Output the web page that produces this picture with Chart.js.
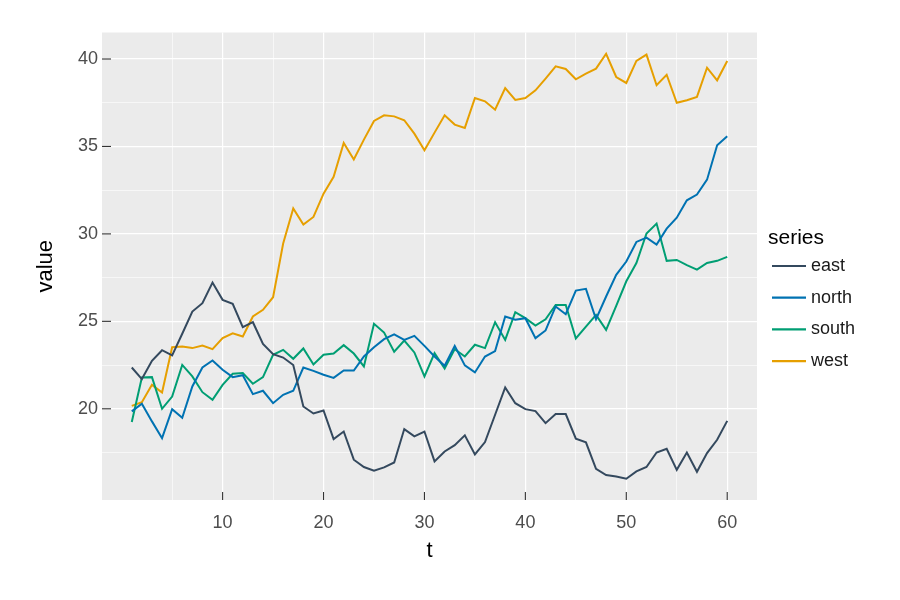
<!DOCTYPE html>
<html>
<head>
<meta charset="utf-8">
<script src="https://cdn.jsdelivr.net/npm/chart.js@4.4.1/dist/chart.umd.min.js"></script>
<style>
  html, body { margin: 0; padding: 0; background: #ffffff; }
  #wrap { width: 900px; height: 600px; }
</style>
</head>
<body>
<div id="wrap"><canvas id="lineChart" width="900" height="600"></canvas></div>
<script>
// time steps
const t = [1, 2, 3, 4, 5, 6, 7, 8, 9, 10,
  11, 12, 13, 14, 15, 16, 17, 18, 19, 20,
  21, 22, 23, 24, 25, 26, 27, 28, 29, 30,
  31, 32, 33, 34, 35, 36, 37, 38, 39, 40,
  41, 42, 43, 44, 45, 46, 47, 48, 49, 50,
  51, 52, 53, 54, 55, 56, 57, 58, 59, 60];

// series values
const east = [22.36, 21.70, 22.74, 23.35, 23.05, 24.29, 25.56, 26.04, 27.22, 26.23,
  26.00, 24.67, 24.95, 23.71, 23.12, 22.93, 22.50, 20.13, 19.73, 19.90,
  18.27, 18.70, 17.09, 16.67, 16.46, 16.65, 16.93, 18.84, 18.42, 18.70,
  16.99, 17.56, 17.92, 18.48, 17.39, 18.10, 19.66, 21.22, 20.32, 19.98,
  19.87, 19.18, 19.70, 19.70, 18.29, 18.08, 16.57, 16.21, 16.13, 16.00,
  16.42, 16.67, 17.50, 17.71, 16.51, 17.50, 16.40, 17.47, 18.23, 19.31];

const north = [19.85, 20.29, 19.28, 18.32, 19.98, 19.49, 21.28, 22.36, 22.76, 22.23,
  21.81, 21.92, 20.84, 21.03, 20.32, 20.80, 21.03, 22.36, 22.17, 21.95,
  21.77, 22.19, 22.19, 22.99, 23.52, 23.98, 24.25, 23.94, 24.17, 23.60,
  22.99, 22.46, 23.60, 22.48, 22.08, 22.99, 23.30, 25.28, 25.09, 25.18,
  24.04, 24.48, 25.85, 25.41, 26.76, 26.86, 25.12, 26.42, 27.66, 28.42,
  29.54, 29.79, 29.39, 30.30, 30.93, 31.92, 32.25, 33.10, 35.07, 35.58];

const south = [19.24, 21.79, 21.81, 20.00, 20.70, 22.51, 21.85, 20.95, 20.51, 21.37,
  22.00, 22.04, 21.43, 21.81, 23.09, 23.37, 22.86, 23.45, 22.53, 23.09,
  23.16, 23.64, 23.16, 22.42, 24.86, 24.36, 23.26, 23.90, 23.22, 21.85,
  23.18, 22.30, 23.41, 22.99, 23.66, 23.47, 24.95, 23.94, 25.52, 25.18,
  24.76, 25.12, 25.94, 25.94, 24.02, 24.70, 25.37, 24.51, 25.89, 27.29,
  28.33, 30.02, 30.59, 28.46, 28.51, 28.21, 27.96, 28.34, 28.46, 28.69];

const west = [20.17, 20.38, 21.37, 20.93, 23.52, 23.56, 23.47, 23.62, 23.41, 24.04,
  24.32, 24.13, 25.28, 25.66, 26.38, 29.45, 31.45, 30.53, 30.97, 32.30,
  33.26, 35.20, 34.25, 35.39, 36.46, 36.78, 36.72, 36.50, 35.73, 34.78,
  35.79, 36.78, 36.25, 36.06, 37.77, 37.58, 37.10, 38.34, 37.66, 37.77,
  38.21, 38.88, 39.58, 39.43, 38.84, 39.16, 39.45, 40.30, 38.97, 38.63,
  39.89, 40.25, 38.50, 39.10, 37.50, 37.64, 37.83, 39.50, 38.78, 39.89];

const seriesNames = ['east', 'north', 'south', 'west'];
const seriesValues = [east, north, south, west];
const seriesColors = ['#34495E', '#0072B2', '#009E73', '#E69F00'];

// grid breaks (major + minor)
const xBreaks = [5, 10, 15, 20, 25, 30, 35, 40, 45, 50, 55, 60];
const yBreaks = [17.5, 20, 22.5, 25, 27.5, 30, 32.5, 35, 37.5, 40];

const FONT = '"Liberation Sans", Arial, Helvetica, sans-serif';

function isMajorX(v) { return v % 10 === 0; }
function isMajorY(v) { return v % 5 === 0; }

// grey panel behind the grid
const panelBg = {
    id: 'panelBg',
    beforeDraw(chart) {
        const a = chart.chartArea, ctx = chart.ctx;
        ctx.save();
        ctx.fillStyle = '#EBEBEB';
        ctx.fillRect(a.left, a.top, a.right - a.left, a.bottom - a.top);
        ctx.restore();
    }
};

// tick marks, axis titles and legend
const decorations = {
    id: 'decorations',
    beforeDatasetsDraw(chart) {
        const a = chart.chartArea, ctx = chart.ctx;
        const xs = chart.scales.x, ys = chart.scales.y;
        ctx.save();
        ctx.strokeStyle = '#333333';
        ctx.lineWidth = 1.1;
        xBreaks.filter(isMajorX).forEach(v => {
            const px = xs.getPixelForValue(v);
            ctx.beginPath();
            ctx.moveTo(px, a.bottom);
            ctx.lineTo(px, a.bottom - 8);
            ctx.stroke();
        });
        yBreaks.filter(isMajorY).forEach(v => {
            const py = ys.getPixelForValue(v);
            ctx.beginPath();
            ctx.moveTo(a.left, py);
            ctx.lineTo(a.left + 9, py);
            ctx.stroke();
        });
        ctx.restore();
    },
    afterDraw(chart) {
        const a = chart.chartArea, ctx = chart.ctx;
        ctx.save();
        ctx.fillStyle = '#000000';
        ctx.font = '22px ' + FONT;
        ctx.textAlign = 'center';
        ctx.textBaseline = 'middle';
        ctx.fillText('t', (a.left + a.right) / 2, 551);
        ctx.translate(46, (a.top + a.bottom) / 2);
        ctx.rotate(-Math.PI / 2);
        ctx.fillText('value', 0, 0);
        ctx.restore();

        // legend
        ctx.save();
        ctx.textAlign = 'left';
        ctx.textBaseline = 'middle';
        ctx.fillStyle = '#000000';
        ctx.font = '21px ' + FONT;
        ctx.fillText('series', 768, 238);
        ctx.font = '18px ' + FONT;
        seriesNames.forEach((name, i) => {
            const y = 266 + i * 31.7;
            ctx.strokeStyle = seriesColors[i];
            ctx.lineWidth = 2.2;
            ctx.beginPath();
            ctx.moveTo(772, y);
            ctx.lineTo(806, y);
            ctx.stroke();
            ctx.fillStyle = '#1a1a1a';
            ctx.fillText(name, 811, y);
        });
        ctx.restore();
    }
};

const ctx = document.getElementById('lineChart').getContext('2d');
const lineChart = new Chart(ctx, {
    type: 'line',
    data: {
        datasets: seriesNames.map((name, i) => ({
            label: name,
            data: t.map((x, j) => ({ x: x, y: seriesValues[i][j] })),
            borderColor: seriesColors[i],
            backgroundColor: seriesColors[i],
            borderWidth: 2,
            pointRadius: 0,
            tension: 0,
            fill: false
        }))
    },
    options: {
        responsive: false,
        animation: false,
        layout: { padding: { top: 32.5, right: 143, left: 0, bottom: 0 } },
        plugins: {
            legend: { display: false },
            tooltip: { enabled: false }
        },
        scales: {
            x: {
                type: 'linear',
                min: -1.95,
                max: 62.95,
                afterBuildTicks(scale) {
                    scale.ticks = xBreaks.map(v => ({ value: v }));
                },
                afterFit(scale) { scale.height = 100; },
                border: { display: false },
                grid: {
                    drawTicks: false,
                    color: '#FFFFFF',
                    lineWidth: c => isMajorX(c.tick.value) ? 1.2 : 0.6
                },
                ticks: {
                    autoSkip: false,
                    maxRotation: 0,
                    padding: 12,
                    color: '#4D4D4D',
                    font: { family: FONT, size: 18 },
                    callback: v => isMajorX(v) ? v : ''
                }
            },
            y: {
                type: 'linear',
                min: 14.785,
                max: 41.515,
                afterBuildTicks(scale) {
                    scale.ticks = yBreaks.map(v => ({ value: v }));
                },
                afterFit(scale) { scale.width = 102; },
                border: { display: false },
                grid: {
                    drawTicks: false,
                    color: '#FFFFFF',
                    lineWidth: c => isMajorY(c.tick.value) ? 1.2 : 0.6
                },
                ticks: {
                    autoSkip: false,
                    padding: 4,
                    color: '#4D4D4D',
                    font: { family: FONT, size: 18 },
                    callback: v => isMajorY(v) ? v : ''
                }
            }
        }
    },
    plugins: [panelBg, decorations]
});
</script>
</body>
</html>
